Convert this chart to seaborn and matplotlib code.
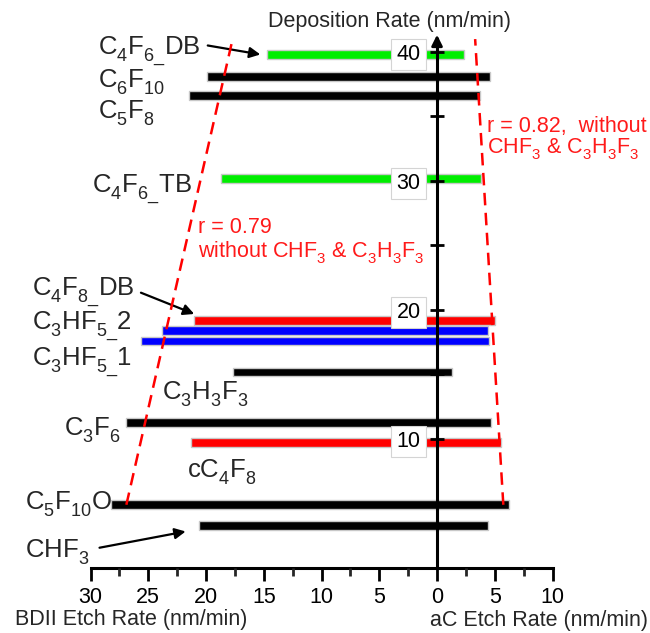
import numpy as np
import pandas as pd
import seaborn as sns
import matplotlib.pyplot as plt
import matplotlib._mathtext as mathtext_interno
from matplotlib.ticker import FixedLocator, FuncFormatter

# --- dados ---
gases = ['C4F6_DB', 'C6F10', 'C5F8', 'C4F6_TB', 'C4F8_DB', 'C3HF5_2',
         'C3HF5_1', 'C3H3F3', 'C3F6', 'cC4F8', 'C5F10O', 'CHF3']
deposicao = [39.8, 38.1, 36.6, 30.2, 19.2, 18.4, 17.6, 15.2, 11.3, 9.7, 4.9, 3.3]
etch_bdii = [14.7, 19.9, 21.5, 18.7, 21.0, 23.8, 25.6, 17.7, 26.9, 21.3, 28.2, 20.6]
etch_ac = [2.3, 4.6, 3.7, 3.8, 5.0, 4.4, 4.5, 1.3, 4.7, 5.5, 6.2, 4.4]
cores = ['#00ee00', 'black', 'black', '#00ee00', '#ff0000', '#0000ff',
         '#0000ff', 'black', 'black', '#ff0000', 'black', 'black']

rotulos = [r'C$_4$F$_{6\_}$DB', r'C$_6$F$_{10}$', r'C$_5$F$_8$', r'C$_4$F$_{6\_}$TB',
           r'C$_4$F$_{8\_}$DB', r'C$_3$HF$_{5\_}$2', r'C$_3$HF$_{5\_}$1',
           r'C$_3$H$_3$F$_3$', r'C$_3$F$_6$', r'cC$_4$F$_8$', r'C$_5$F$_{10}$O',
           r'CHF$_3$']
# posição (x esquerda, linha de base) de cada rótulo
pos_rotulos = [(-29.35, 39.77), (-29.35, 37.29), (-29.35, 34.88), (-29.87, 29.07),
               (-35.06, 21.09), (-35.06, 18.45), (-35.06, 15.66), (-23.81, 13.10),
               (-32.29, 10.31), (-21.65, 7.05), (-35.67, 4.57), (-35.67, 0.85)]

df = pd.DataFrame({'Gas': gases, 'Dep': deposicao,
                   'BDII': [-v for v in etch_bdii], 'aC': etch_ac})
paleta = dict(zip(gases, cores))

sns.set_style('white')
plt.rcParams['font.family'] = ['Liberation Sans', 'DejaVu Sans']
plt.rcParams['mathtext.default'] = 'regular'
# subscritos um pouco mais baixos, como no original
mathtext_interno.FontConstantsBase.sub1 = 0.5

fig = plt.figure(figsize=(6.5, 6.33), dpi=100)
ax = fig.add_axes([0, 0, 1, 1])

# largura das barras em unidades de deposição (seaborn usa o menor espaçamento)
passo = np.nanmin(np.diff(np.unique(df['Dep'])))
largura = 0.68 / passo

for col in ['BDII', 'aC']:
    sns.barplot(data=df, x=col, y='Dep', hue='Gas', palette=paleta, orient='y',
                native_scale=True, width=largura, dodge=False, errorbar=None,
                saturation=1, edgecolor='#c8c8c8', linewidth=1, legend=False, ax=ax)

ax.set_xlim(-37.84, 18.44)
ax.set_ylim(-5.04, 44.03)
ax.set_xlabel('')
ax.set_ylabel('')
ax.set_axisbelow(False)

# eixos
for s in ['top', 'right']:
    ax.spines[s].set_visible(False)
ax.spines['bottom'].set_position(('data', 0))
ax.spines['bottom'].set_bounds(-30, 10)
ax.spines['left'].set_position(('data', 0))
ax.spines['left'].set_bounds(0, 41)
for s in ['bottom', 'left']:
    ax.spines[s].set_color('black')
    ax.spines[s].set_linewidth(2.2)
    ax.spines[s].set_zorder(2.5)

ax.xaxis.set_major_locator(FixedLocator(np.arange(-30, 11, 5)))
ax.xaxis.set_minor_locator(FixedLocator(np.arange(-27.5, 10, 5)))
ax.xaxis.set_major_formatter(FuncFormatter(lambda v, p: f'{abs(v):g}'))
ax.yaxis.set_major_locator(FixedLocator([10, 20, 30, 40]))
ax.yaxis.set_minor_locator(FixedLocator([15, 25, 35]))

ax.tick_params(axis='x', which='major', direction='out', length=9, width=2,
               labelsize=15.5, pad=5, bottom=True, colors='black')
ax.tick_params(axis='x', which='minor', direction='out', length=5.5, width=2, bottom=True)
ax.tick_params(axis='y', which='both', direction='inout', length=9.5, width=2,
               left=True, labelsize=15.5, pad=7, colors='black')
for lab in ax.get_yticklabels():
    lab.set_bbox(dict(boxstyle='square,pad=0.25', fc='white', ec='#d4d4d4', lw=0.8))

ax.annotate('', xy=(0, 41.55), xytext=(0, 40.6),
            arrowprops=dict(arrowstyle='-|>', color='black', lw=2, mutation_scale=16))

# rótulos dos gases
for txt, (px, py) in zip(rotulos, pos_rotulos):
    ax.text(px, py, txt, fontsize=18.5, ha='left', va='baseline')

seta = dict(arrowstyle='-|>', color='black', lw=1.6, mutation_scale=16)
ax.annotate('', xy=(-15.06, 39.77), xytext=(-20.09, 40.54), arrowprops=seta)
ax.annotate('', xy=(-20.8, 19.61), xytext=(-25.86, 21.42), arrowprops=seta)
ax.annotate('', xy=(-21.53, 2.87), xytext=(-29.46, 1.53), arrowprops=seta)

# linhas de tendência tracejadas
ax.plot([-26.9, -17.7], [4.9, 41.0], color='red', lw=1.8, ls=(0, (5, 3)), zorder=3)
ax.plot([5.74, 3.3], [4.9, 41.0], color='red', lw=1.8, ls=(0, (5, 3)), zorder=3)

vermelho = '#ff1a1a'
ax.text(-20.69, 25.99, 'r = 0.79', color=vermelho, fontsize=15.5, va='baseline')
ax.text(-20.69, 24.13, r'without CHF$_3$ & C$_3$H$_3$F$_3$', color=vermelho,
        fontsize=15.5, va='baseline')
ax.text(4.33, 33.82, 'r = 0.82,  without', color=vermelho, fontsize=15.5, va='baseline')
ax.text(4.33, 32.17, r'CHF$_3$ & C$_3$H$_3$F$_3$', color=vermelho, fontsize=15.5,
        va='baseline')

# títulos dos eixos
ax.text(-14.63, 41.94, 'Deposition Rate (nm/min)', fontsize=15.5, va='baseline')
ax.text(-36.54, -4.42, 'BDII Etch Rate (nm/min)', fontsize=15.5, va='baseline')
ax.text(-0.61, -4.5, 'aC Etch Rate (nm/min)', fontsize=15.5, va='baseline')

fig.savefig('out.png', dpi=100)
